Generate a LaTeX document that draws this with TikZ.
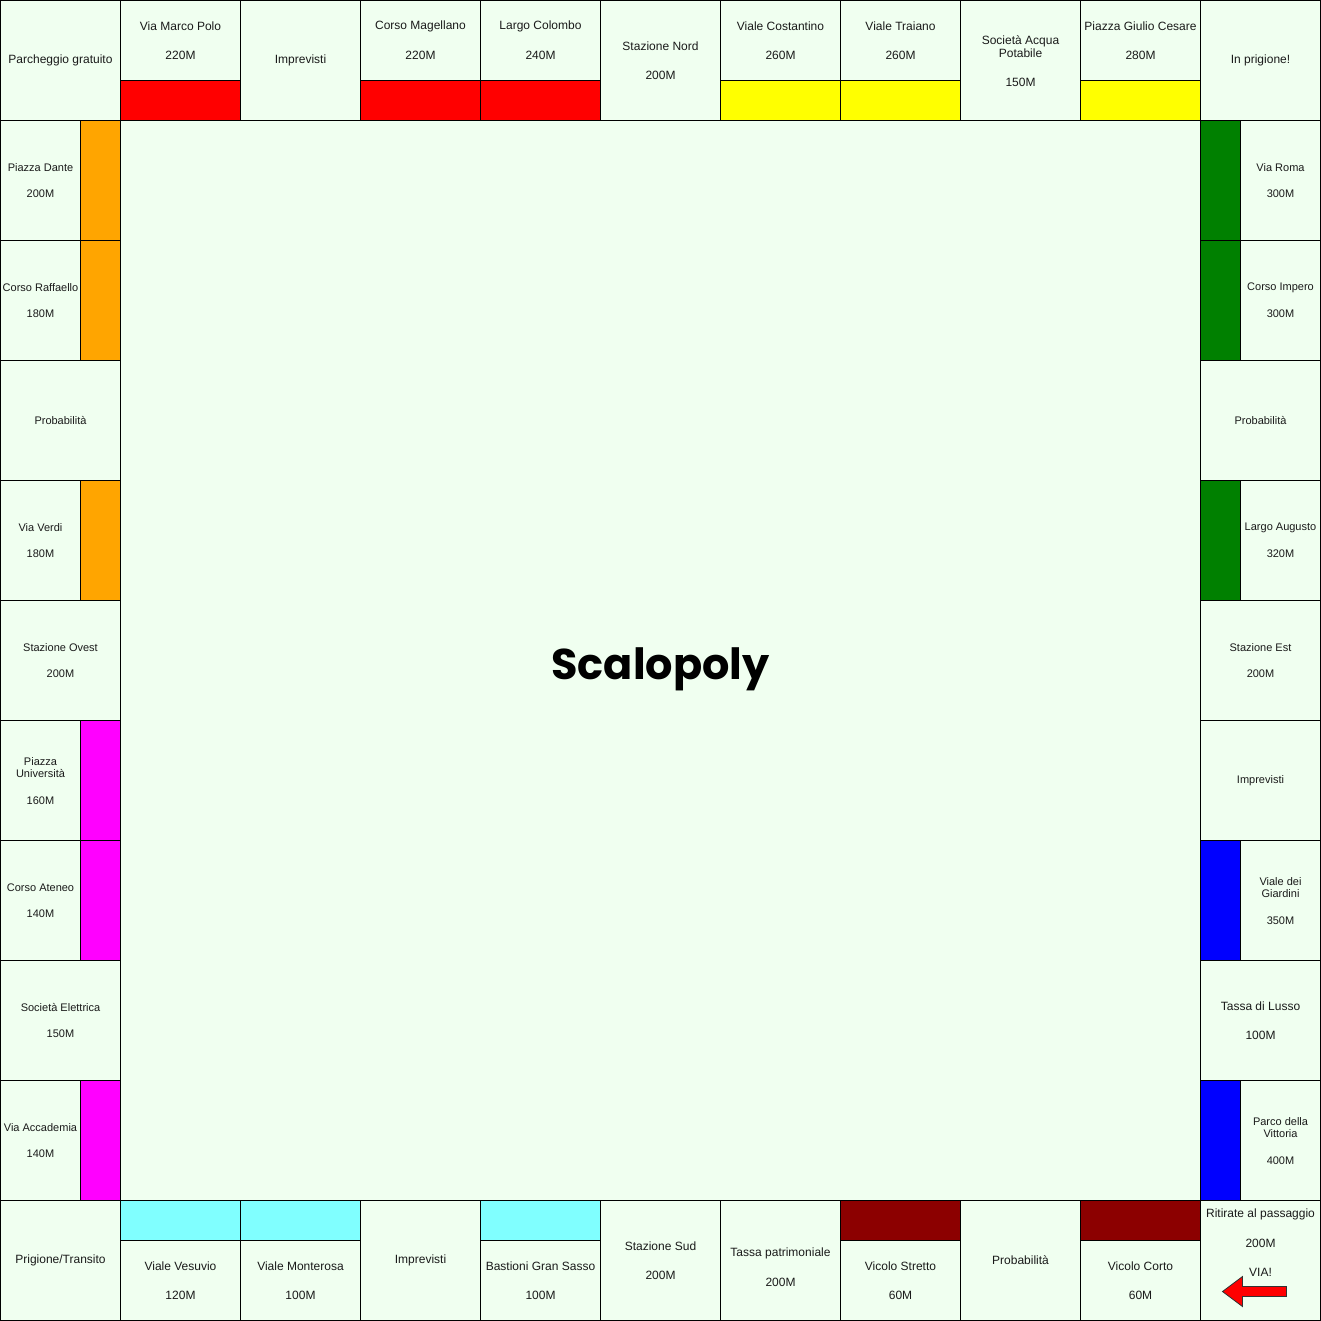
\documentclass[tikz,border=0pt]{standalone}
\usepackage{fontspec}
\setmainfont{Liberation Sans}
\newfontfamily\titlefont{Poppins}
\definecolor{bgc}{HTML}{F0FFF0}
\definecolor{cred}{HTML}{FF0000}
\definecolor{corange}{HTML}{FFA500}
\definecolor{cyellow}{HTML}{FFFF00}
\definecolor{cgreen}{HTML}{008000}
\definecolor{cmag}{HTML}{FF00FF}
\definecolor{cblue}{HTML}{0000FF}
\definecolor{ccyan}{HTML}{80FFFF}
\definecolor{cdred}{HTML}{8C0000}
\definecolor{txt}{HTML}{1A1A1A}
\tikzset{
  cellbox/.style={draw=black, fill=bgc, line width=1pt},
  band/.style={draw=black, line width=1pt},
  big/.style={font=\fontsize{12}{13.5}\selectfont, align=center, text=txt, inner sep=0pt},
  small/.style={font=\fontsize{11}{12.5}\selectfont, align=center, text=txt, inner sep=0pt},
}
\begin{document}
\begin{tikzpicture}[x=1pt,y=-1pt]
\useasboundingbox (0,0) rectangle (1321,1321);
\fill[bgc] (0,0) rectangle (1321,1321);
\begin{scope}[shift={(0.5,0.5)}]
% ---------- cells grid ----------
% top row
\foreach \i in {0,...,10} {\draw[cellbox] (\i*120,0) rectangle ++(120,120);}
% bottom row
\foreach \i in {0,...,10} {\draw[cellbox] (\i*120,1200) rectangle ++(120,120);}
% left and right columns
\foreach \j in {1,...,9} {\draw[cellbox] (0,\j*120) rectangle ++(120,120);
                          \draw[cellbox] (1200,\j*120) rectangle ++(120,120);}
\draw[cellbox] (120,120) rectangle (1200,1200);
% ---------- colour bands ----------
% top
\draw[band,fill=cred] (120,80) rectangle (240,120);
\draw[band,fill=cred] (360,80) rectangle (480,120);
\draw[band,fill=cred] (480,80) rectangle (600,120);
\draw[band,fill=cyellow] (720,80) rectangle (840,120);
\draw[band,fill=cyellow] (840,80) rectangle (960,120);
\draw[band,fill=cyellow] (1080,80) rectangle (1200,120);
% left
\draw[band,fill=corange] (80,120) rectangle (120,240);
\draw[band,fill=corange] (80,240) rectangle (120,360);
\draw[band,fill=corange] (80,480) rectangle (120,600);
\draw[band,fill=cmag] (80,720) rectangle (120,840);
\draw[band,fill=cmag] (80,840) rectangle (120,960);
\draw[band,fill=cmag] (80,1080) rectangle (120,1200);
% right
\draw[band,fill=cgreen] (1200,120) rectangle (1240,240);
\draw[band,fill=cgreen] (1200,240) rectangle (1240,360);
\draw[band,fill=cgreen] (1200,480) rectangle (1240,600);
\draw[band,fill=cblue] (1200,840) rectangle (1240,960);
\draw[band,fill=cblue] (1200,1080) rectangle (1240,1200);
% bottom
\draw[band,fill=ccyan] (120,1200) rectangle (240,1240);
\draw[band,fill=ccyan] (240,1200) rectangle (360,1240);
\draw[band,fill=ccyan] (480,1200) rectangle (600,1240);
\draw[band,fill=cdred] (840,1200) rectangle (960,1240);
\draw[band,fill=cdred] (1080,1200) rectangle (1200,1240);
% ---------- top row texts ----------
\node[big] (parcheggio) at (60,60) {Parcheggio gratuito};
\node[big] (marcopolo) at (180,26) {Via Marco Polo};
\node[big] (marcopolop) at (180,55) {220M};
\node[big] (impr1) at (300,60) {Imprevisti};
\node[big] (magellano) at (420,26) {Corso Magellano};
\node[big] (magellanop) at (420,55) {220M};
\node[big] (colombo) at (540,26) {Largo Colombo};
\node[big] (colombop) at (540,55) {240M};
\node[big] (snord) at (660,46) {Stazione Nord};
\node[big] (snordp) at (660,75) {200M};
\node[big] (costantino) at (780,26) {Viale Costantino};
\node[big] (costantinop) at (780,55) {260M};
\node[big] (traiano) at (900,26) {Viale Traiano};
\node[big] (traianop) at (900,55) {260M};
\node[big] (acqua) at (1020,46) {Società Acqua\\Potabile};
\node[big] (acquap) at (1020,82) {150M};
\node[big] (cesare) at (1140,26) {Piazza Giulio Cesare};
\node[big] (cesarep) at (1140,55) {280M};
\node[big] (prigione) at (1260,60) {In prigione!};
% ---------- left column texts ----------
\node[small] (dante) at (40,167) {Piazza Dante};
\node[small] (dantep) at (40,193) {200M};
\node[small] (raffaello) at (40,287) {Corso Raffaello};
\node[small] (raffaellop) at (40,313) {180M};
\node[small] (prob1) at (60,420) {Probabilità};
\node[small] (verdi) at (40,527) {Via Verdi};
\node[small] (verdip) at (40,553) {180M};
\node[small] (sovest) at (60,647) {Stazione Ovest};
\node[small] (sovestp) at (60,673) {200M};
\node[small] (universita) at (40,767) {Piazza\\Università};
\node[small] (universitap) at (40,800) {160M};
\node[small] (ateneo) at (40,887) {Corso Ateneo};
\node[small] (ateneop) at (40,913) {140M};
\node[small] (elettrica) at (60,1007) {Società Elettrica};
\node[small] (elettricap) at (60,1033) {150M};
\node[small] (accademia) at (40,1127) {Via Accademia};
\node[small] (accademiap) at (40,1153) {140M};
% ---------- right column texts ----------
\node[small] (roma) at (1280,167) {Via Roma};
\node[small] (romap) at (1280,193) {300M};
\node[small] (impero) at (1280,287) {Corso Impero};
\node[small] (imperop) at (1280,313) {300M};
\node[small] (prob2) at (1260,420) {Probabilità};
\node[small] (augusto) at (1280,527) {Largo Augusto};
\node[small] (augustop) at (1280,553) {320M};
\node[small] (sest) at (1260,647) {Stazione Est};
\node[small] (sestp) at (1260,673) {200M};
\node[small] (impr2) at (1260,780) {Imprevisti};
\node[small] (giardini) at (1280,887) {Viale dei\\Giardini};
\node[small] (giardinip) at (1280,920) {350M};
\node[big] (lusso) at (1260,1006) {Tassa di Lusso};
\node[big] (lussop) at (1260,1035) {100M};
\node[small] (vittoria) at (1280,1127) {Parco della\\Vittoria};
\node[small] (vittoriap) at (1280,1160) {400M};
% ---------- bottom row texts ----------
\node[big] (transito) at (60,1260) {Prigione/Transito};
\node[big] (vesuvio) at (180,1266) {Viale Vesuvio};
\node[big] (vesuviop) at (180,1295) {120M};
\node[big] (monterosa) at (300,1266) {Viale Monterosa};
\node[big] (monterosap) at (300,1295) {100M};
\node[big] (impr3) at (420,1260) {Imprevisti};
\node[big] (gransasso) at (540,1266) {Bastioni Gran Sasso};
\node[big] (gransassop) at (540,1295) {100M};
\node[big] (ssud) at (660,1246) {Stazione Sud};
\node[big] (ssudp) at (660,1275) {200M};
\node[big] (patrim) at (780,1253) {Tassa patrimoniale};
\node[big] (patrimp) at (780,1282) {200M};
\node[big] (stretto) at (900,1266) {Vicolo Stretto};
\node[big] (strettop) at (900,1295) {60M};
\node[big] (prob3) at (1020,1260) {Probabilità};
\node[big] (corto) at (1140,1266) {Vicolo Corto};
\node[big] (cortop) at (1140,1295) {60M};
\node[big] (ritirate) at (1260,1214) {Ritirate al passaggio};
\node[big] (ritiratep) at (1260,1243) {200M};
\node[big] (via) at (1260,1272) {VIA!};
% arrow
\draw[fill=cred, draw=black!80, line width=0.8pt, line join=miter]
  (1222,1291) -- (1242,1276) -- (1242,1286) -- (1286,1286) -- (1286,1296)
  -- (1242,1296) -- (1242,1306) -- cycle;
% ---------- title ----------
\node[font=\titlefont\bfseries\fontsize{43}{48}\selectfont, inner sep=0pt] (title) at (660,669) {Scalopoly};
\end{scope}
\end{tikzpicture}
\end{document}
